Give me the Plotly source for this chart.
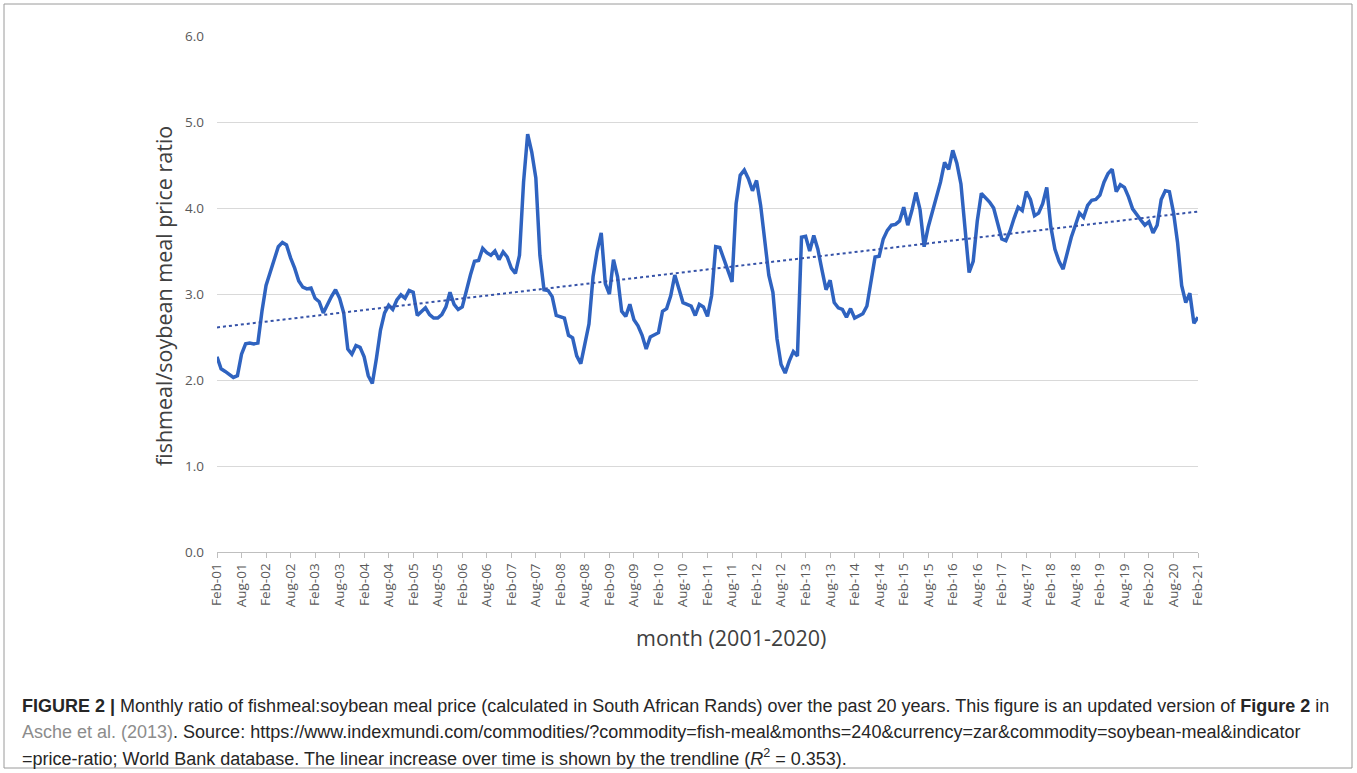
import numpy as np
import plotly.graph_objects as go

# ---- data (monthly fishmeal:soybean meal price ratio, Feb-2001 .. Feb-2021) ----
start_year = 2001
ratio = [
    2.27, 2.13, 2.10, 2.07, 2.03, 2.05, 2.30, 2.42, 2.43, 2.42,
    2.43, 2.80, 3.10, 3.25, 3.40, 3.55, 3.60, 3.57, 3.42, 3.30,
    3.15, 3.08, 3.06, 3.07, 2.95, 2.91, 2.78, 2.88, 2.97, 3.05,
    2.95, 2.78, 2.36, 2.30, 2.40, 2.38, 2.27, 2.05, 1.96, 2.25,
    2.58, 2.78, 2.87, 2.82, 2.93, 2.99, 2.95, 3.04, 3.02, 2.75,
    2.80, 2.84, 2.76, 2.72, 2.72, 2.76, 2.85, 3.02, 2.88, 2.82,
    2.85, 3.05, 3.22, 3.38, 3.39, 3.53, 3.48, 3.45, 3.50, 3.40,
    3.49, 3.43, 3.30, 3.24, 3.45, 4.30, 4.86, 4.65, 4.35, 3.45,
    3.05, 3.04, 2.97, 2.75, 2.73, 2.72, 2.52, 2.49, 2.28, 2.19,
    2.42, 2.65, 3.20, 3.50, 3.71, 3.12, 3.00, 3.40, 3.20, 2.80,
    2.74, 2.88, 2.70, 2.63, 2.52, 2.36, 2.50, 2.53, 2.55, 2.80,
    2.83, 2.98, 3.22, 3.06, 2.90, 2.88, 2.86, 2.75, 2.88, 2.85,
    2.74, 2.98, 3.55, 3.54, 3.40, 3.25, 3.14, 4.05, 4.38, 4.44,
    4.34, 4.20, 4.32, 4.03, 3.62, 3.22, 3.02, 2.48, 2.18, 2.08,
    2.22, 2.33, 2.28, 3.66, 3.67, 3.50, 3.68, 3.52, 3.28, 3.05,
    3.16, 2.90, 2.84, 2.82, 2.73, 2.83, 2.72, 2.74, 2.77, 2.86,
    3.15, 3.43, 3.44, 3.64, 3.74, 3.80, 3.81, 3.85, 4.01, 3.80,
    3.97, 4.18, 3.98, 3.55, 3.78, 3.95, 4.10, 4.30, 4.53, 4.45,
    4.67, 4.52, 4.28, 3.78, 3.25, 3.38, 3.85, 4.17, 4.12, 4.07,
    4.00, 3.83, 3.64, 3.62, 3.73, 3.88, 4.01, 3.97, 4.19, 4.10,
    3.91, 3.94, 4.05, 4.24, 3.78, 3.52, 3.38, 3.29, 3.48, 3.66,
    3.80, 3.94, 3.89, 4.03, 4.09, 4.10, 4.15, 4.30, 4.40, 4.45,
    4.19, 4.27, 4.24, 4.13, 3.99, 3.92, 3.86, 3.80, 3.84, 3.71,
    3.80, 4.10, 4.20, 4.19, 3.95, 3.60, 3.10, 2.90, 3.01, 2.66,
    2.73,
]
month_names = ["Jan", "Feb", "Mar", "Apr", "May", "Jun",
               "Jul", "Aug", "Sep", "Oct", "Nov", "Dec"]
months = []
for k in range(len(ratio)):
    m = (1 + k) % 12
    y = start_year + (1 + k) // 12
    months.append(f"{month_names[m]}-{y % 100:02d}")

y_ticks = [0.0, 1.0, 2.0, 3.0, 4.0, 5.0, 6.0]

# ---- derived ----
idx = np.arange(len(ratio))
tick_idx = [int(i) for i in idx if months[i].startswith(("Feb", "Aug"))]
tick_text = [months[i] for i in tick_idx]
slope, intercept = np.polyfit(idx, ratio, 1)
trend = slope * idx + intercept

fig = go.Figure()
fig.add_trace(go.Scatter(
    x=idx, y=ratio, mode="lines",
    line=dict(color="#2f63c0", width=3.5),
    hoverinfo="skip", showlegend=False,
))
fig.add_trace(go.Scatter(
    x=idx, y=trend, mode="lines",
    line=dict(color="#3552a8", width=2, dash="dot"),
    hoverinfo="skip", showlegend=False,
))

L, R, T, B = 217, 159, 36, 221
W, H = 1357, 773
pw, ph = W - L - R, H - T - B

def px(xp):
    return (xp - L) / pw

def py(yp):
    return (H - B - yp) / ph

tick_font = dict(size=13.5, color="#595959", family="Open Sans, sans-serif")
fig.update_layout(
    width=W, height=H,
    margin=dict(l=L, r=R, t=T, b=B, pad=0),
    paper_bgcolor="white", plot_bgcolor="white",
    font=dict(family="Liberation Sans, Arial, sans-serif", color="#595959"),
    xaxis=dict(
        range=[0, len(ratio) - 1],
        tickmode="array", tickvals=tick_idx, ticktext=tick_text,
        tickangle=-90, tickfont=tick_font,
        ticks="outside", ticklen=5, tickcolor="#bfbfbf",
        showgrid=False, zeroline=False,
        showline=True, linecolor="#bfbfbf", linewidth=1,
    ),
    yaxis=dict(
        range=[0, 6], tickvals=y_ticks, tickformat=".1f",
        tickfont=tick_font,
        showgrid=True, gridcolor="#d9d9d9", gridwidth=1,
        zeroline=False, showline=False, ticks="", ticklabelstandoff=12,
    ),
)

title_font = dict(size=21.5, color="#404040", family="Open Sans, sans-serif")
cap_font = dict(size=18, color="#262626", family="Liberation Sans, Arial, sans-serif")
annotations = [
    dict(text="fishmeal/soybean meal price ratio", textangle=-90,
         x=px(163), y=py(296), xref="paper", yref="paper",
         xanchor="center", yanchor="middle", showarrow=False, font=title_font),
    dict(text="month (2001-2020)",
         x=px(731), y=py(637), xref="paper", yref="paper",
         xanchor="center", yanchor="middle", showarrow=False, font=title_font),
    dict(text="<b>FIGURE 2 |</b> Monthly ratio of fishmeal:soybean meal price (calculated in South African Rands) over the past 20 years. This figure is an updated version of <b>Figure 2</b> in",
         x=px(20), y=py(706), xref="paper", yref="paper",
         xanchor="left", yanchor="middle", showarrow=False, font=cap_font),
    dict(text="<span style='color:#8c8c8c'>Asche et al. (2013)</span>. Source: https://www.indexmundi.com/commodities/?commodity=fish-meal&amp;months=240&amp;currency=zar&amp;commodity=soybean-meal&amp;indicator",
         x=px(20), y=py(732), xref="paper", yref="paper",
         xanchor="left", yanchor="middle", showarrow=False, font=cap_font),
    dict(text="=price-ratio; World Bank database. The linear increase over time is shown by the trendline (<i>R</i><sup>2</sup> = 0.353).",
         x=px(20), y=py(757), xref="paper", yref="paper",
         xanchor="left", yanchor="middle", showarrow=False, font=cap_font),
]
fig.update_layout(annotations=annotations)

fig.add_shape(type="rect", xref="paper", yref="paper",
              x0=px(4), x1=px(1352), y0=py(768), y1=py(4),
              line=dict(color="#9a9a9a", width=1), fillcolor="rgba(0,0,0,0)",
              layer="below")

fig.write_html("out.html", config={"displayModeBar": False},
               post_script="document.body.style.margin='0px';document.body.style.overflow='hidden';")
